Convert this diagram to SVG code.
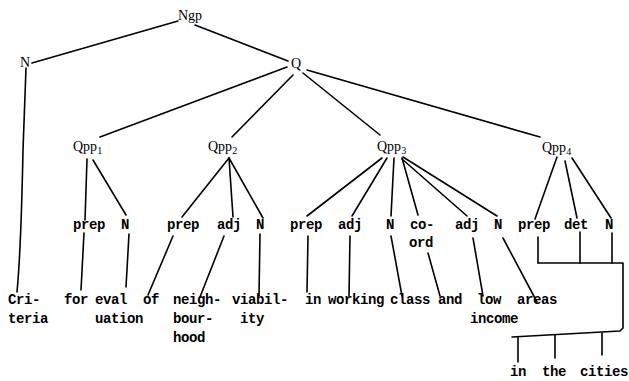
<svg xmlns="http://www.w3.org/2000/svg" width="629" height="381" viewBox="0 0 629 381">
<style>
.bg{fill:#fff}
.c{stroke:#000;stroke-width:1.6;fill:none;stroke-linecap:round;stroke-linejoin:round}
.n{font-family:"Liberation Serif","Times New Roman",serif;font-size:14px;fill:#000}
.t{font-family:"Liberation Mono","Courier New",monospace;font-size:14px;letter-spacing:-0.4px;font-weight:bold;fill:#000}
.s{font-size:10px}
</style>
<rect class="bg" x="0" y="0" width="629" height="381"/>
<g id="connectors" class="c">
<line x1="178" y1="21" x2="32" y2="63"/>
<line x1="195" y1="25" x2="288" y2="61"/>
<path d="M26,68 L23,150 Q21,250 17,292"/>
<line x1="287" y1="67" x2="100" y2="137"/>
<line x1="293" y1="75" x2="232" y2="137"/>
<line x1="303" y1="73" x2="380" y2="135"/>
<line x1="307" y1="70" x2="540" y2="137"/>
<line x1="87" y1="159" x2="85" y2="220"/>
<line x1="93" y1="160" x2="126" y2="215"/>
<line x1="84" y1="233" x2="81" y2="290"/>
<line x1="129" y1="234" x2="126" y2="287"/>
<line x1="229" y1="158" x2="182" y2="217"/>
<line x1="229" y1="158" x2="233" y2="217"/>
<line x1="229" y1="158" x2="263" y2="218"/>
<line x1="173" y1="236" x2="148" y2="295"/>
<line x1="224" y1="236" x2="200" y2="297"/>
<line x1="260" y1="234" x2="259" y2="296"/>
<line x1="382" y1="158" x2="307" y2="216"/>
<line x1="387" y1="158" x2="352" y2="216"/>
<line x1="394" y1="158" x2="391" y2="216"/>
<line x1="402" y1="158" x2="418" y2="215"/>
<line x1="402" y1="159" x2="467" y2="216"/>
<line x1="403" y1="157" x2="497" y2="216"/>
<line x1="308" y1="236" x2="307" y2="292"/>
<line x1="350" y1="236" x2="349" y2="296"/>
<line x1="391" y1="236" x2="402" y2="296"/>
<line x1="428" y1="253" x2="440" y2="296"/>
<line x1="473" y1="238" x2="483" y2="296"/>
<line x1="503" y1="238" x2="537" y2="302"/>
<line x1="557" y1="157" x2="535" y2="219"/>
<line x1="565" y1="161" x2="577" y2="218"/>
<line x1="572" y1="158" x2="611" y2="218"/>
<line x1="538" y1="237" x2="538" y2="263"/>
<line x1="580" y1="232" x2="580" y2="263"/>
<line x1="612" y1="233" x2="612" y2="263"/>
<polyline points="538,263 623,263 623,328 620,331 512,337"/>
<line x1="518" y1="337" x2="518" y2="362"/>
<line x1="555" y1="335" x2="555" y2="358"/>
<line x1="602" y1="333" x2="602" y2="355"/>
</g>
<g id="Ngp"><text class="n" x="178" y="20">Ngp</text></g>
<g id="N0"><text class="n" x="20" y="67">N</text></g>
<g id="Q"><text class="n" x="291" y="68">Q</text></g>
<g id="Qpp1"><text class="n" x="73" y="151">Qpp<tspan class="s" dy="3">1</tspan></text></g>
<g id="Qpp2"><text class="n" x="208" y="151">Qpp<tspan class="s" dy="3">2</tspan></text></g>
<g id="Qpp3"><text class="n" x="377" y="151">Qpp<tspan class="s" dy="3">3</tspan></text></g>
<g id="Qpp4"><text class="n" x="542" y="152">Qpp<tspan class="s" dy="3">4</tspan></text></g>
<g id="prep1"><text class="t" x="73" y="229">prep</text></g>
<g id="N1"><text class="t" x="121" y="229">N</text></g>
<g id="prep2"><text class="t" x="167" y="229">prep</text></g>
<g id="adj2"><text class="t" x="217" y="229">adj</text></g>
<g id="N2"><text class="t" x="256" y="229">N</text></g>
<g id="prep3"><text class="t" x="290" y="229">prep</text></g>
<g id="adj3"><text class="t" x="338" y="229">adj</text></g>
<g id="N3"><text class="t" x="386" y="229">N</text></g>
<g id="coord3"><text class="t" x="410" y="229">co-</text><text class="t" x="409" y="247">ord</text></g>
<g id="adj3b"><text class="t" x="455" y="229">adj</text></g>
<g id="N3b"><text class="t" x="494" y="229">N</text></g>
<g id="prep4"><text class="t" x="518" y="229">prep</text></g>
<g id="det4"><text class="t" x="564" y="229">det</text></g>
<g id="N4"><text class="t" x="605" y="229">N</text></g>
<g id="w-criteria"><text class="t" x="8" y="304">Cri-</text><text class="t" x="8" y="323">teria</text></g>
<g id="w-for"><text class="t" x="64" y="304">for</text></g>
<g id="w-evaluation"><text class="t" x="95" y="304">eval</text><text class="t" x="95" y="323">uation</text></g>
<g id="w-of"><text class="t" x="143" y="304">of</text></g>
<g id="w-neighbourhood"><text class="t" x="173" y="304">neigh-</text><text class="t" x="173" y="323">bour-</text><text class="t" x="173" y="342">hood</text></g>
<g id="w-viability"><text class="t" x="232" y="304">viabil-</text><text class="t" x="240" y="323">ity</text></g>
<g id="w-in"><text class="t" x="305" y="304">in</text></g>
<g id="w-working"><text class="t" x="328" y="304">working</text></g>
<g id="w-class"><text class="t" x="390" y="304">class</text></g>
<g id="w-and"><text class="t" x="438" y="304">and</text></g>
<g id="w-lowincome"><text class="t" x="477" y="304">low</text><text class="t" x="470" y="323">income</text></g>
<g id="w-areas"><text class="t" x="517" y="304">areas</text></g>
<g id="w-in2"><text class="t" x="510" y="376">in</text></g>
<g id="w-the"><text class="t" x="542" y="376">the</text></g>
<g id="w-cities"><text class="t" x="580" y="376">cities</text></g>
</svg>
